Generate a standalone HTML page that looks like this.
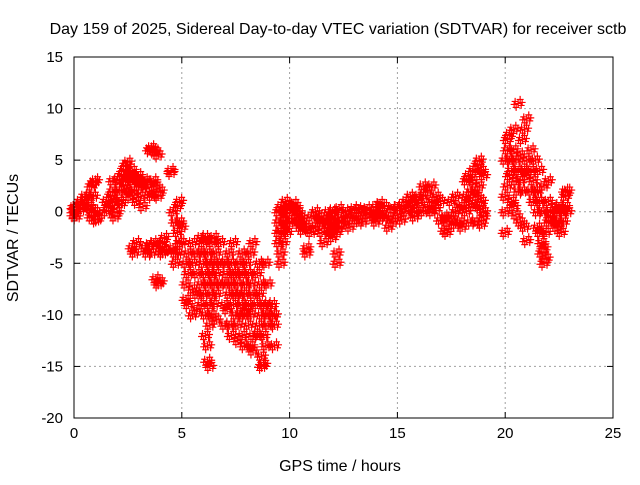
<!DOCTYPE html>
<html><head><meta charset="utf-8"><style>
body{margin:0;background:#fff}
svg text{font-family:"Liberation Sans",sans-serif;font-size:15px;fill:#000}
svg text.big{font-size:16px}
</style></head><body>
<svg id="c" width="640" height="480" viewBox="0 0 640 480">
<text class="big" x="338" y="34" text-anchor="middle">Day 159 of 2025, Sidereal Day-to-day VTEC variation (SDTVAR) for receiver sctb</text>
<text class="big" x="340" y="471" text-anchor="middle">GPS time / hours</text>
<text class="big" transform="translate(18,238) rotate(-90)" text-anchor="middle">SDTVAR / TECUs</text>
<g id="grid"></g><g id="marks"></g>
<rect x="74" y="57" width="539" height="361" fill="none" stroke="#000" stroke-width="1"/>
</svg>
<script>
const xTicks=[0,5,10,15,20,25];
const yTicks=[15,10,5,0,-5,-10,-15,-20];
const hours=[0,0.1,0.3,0.5,0.7,0.8,0.9,1.0,1.1,
1.5,1.6,1.7,1.8,1.9,2.0,2.1,2.2,2.3,2.4,2.5,2.6,2.7,2.8,2.9,3.0,3.1,3.2,3.3,3.4,3.5,3.6,3.7,3.8,3.9,4.0,4.1,4.2,4.5,4.6,4.7,4.8,4.9,5.0,
5.2,5.3,5.5,5.7,5.9,6.0,6.1,6.2,6.3,6.4,6.5,6.6,6.8,7.0,7.1,7.2,7.3,7.4,7.5,7.6,7.7,7.8,7.9,8.0,8.1,8.2,8.3,8.5,8.6,8.7,8.8,8.9,9.0,9.2,9.3,
9.5,9.6,9.7,9.8,9.9,10.0,10.2,10.3,10.4,10.5,10.6,10.8,11.0,11.2,11.4,11.5,11.6,11.8,11.9,12.0,12.1,12.2,12.3,12.4,12.6,12.8,13.0,13.2,13.4,13.6,13.9,14.0,14.2,14.4,14.6,14.8,
15.0,15.2,15.4,15.6,15.8,16.0,16.2,16.4,16.6,16.8,17.0,17.2,17.3,17.5,17.7,17.9,18.0,18.2,18.3,18.4,18.5,18.6,18.7,18.8,18.9,19.0,
20.0,20.1,20.2,20.3,20.4,20.5,20.6,20.7,20.8,20.9,21.0,21.2,21.3,21.4,21.5,21.6,21.7,21.8,21.9,22.0,22.1,22.3,22.4,22.5,22.6,22.7,22.8,22.9];
const values=[[0,-0.3,0.4],[0.5,-0.5],[1,0.2],[1.5,0.8],[0.5,1.5],[-0.5,0.3,2.5],[2.8,1.5,0],[3,0,-0.8],[-0.7],
[0,1],[0.5],[0.5,1.5],[2,3],[-0.5,1],[3,0],[2,1],[0.8,3.5],[4,2.5],[4.5,3],[4.8,2],[3.5,1.5],[3,4,-3.5],[2,3.5,-4],[3,1,-3],[2.5,3.5],[1.5,3],[2.5,0.5],[-3.5,3],[2.8,-4],[6,2,-3.2],[6.2,1.5,-4],[5.9,3,-3],[5.8,2.5,-6.5],[5.5,-7,1.5],[2,-3.5,-6.8],[-3,-4],[-2.5,-3.8],[4,3.8],[-3.5,0],[-1,-4,-5],[0.5,-2,-4],[-1,-3,1],[-3,-1.5],
[-5,-7,-8.5],[-4,-6,-9],[-3,-5,-7.5,-10],[-4,-6,-8,-9.5],[-2.5,-4,-7,-9],[-3,-5,-8],[-2.5,-6,-10,-12],[-4,-7,-13,-14.5],[-5,-9,-15,-11],[-3,-6,-8,-10],[-2.5,-5,-7,-9],[-4,-6,-8,-10.5],[-3,-5,-7],[-5,-7,-9,-11],[-6,-9.5],[-4,-8,-11],[-5,-7,-12],[-3,-6,-9],[-6,-8,-10],[-7,-11,-12.5],[-5,-8,-10],[-4,-6,-9,-12],[-8,-10,-13],[-5,-7,-9.5],[-6,-9,-11],[-4,-7,-10,-13],[-3,-8,-12,-13.5],[-6,-9,-12],[-5,-8,-11],[-7,-10,-14,-15],[-9,-12,-14.8],[-5,-10,-13],[-7,-9,-11],[-9,-10],[-10,-11,-13],
[0,-1,-2,-3],[0.5,-2,-4,-5],[0,-1,-3],[1,-0.5,-1.5],[0.3,-2],[0.5,-1],[0.8,0],[0.5,-0.3],[-1,0],[-0.5,-1.5],[-1,-1.8],[-1.5,-3.5,-4],[-0.5,-2],[0,-1.5],[-1,-0.5],[-2,-0.8],[-3,-1],[-1.5,0],[-2,-0.5],[0,-1,-2.5],[-1.5],[-2,-4,-5],[0.3,-1.5],[-0.5,-1],[-1,0],[-1.5,-0.5],[-0.5,0.3],[-0.8,0.2],[-1,0],[-0.3,0.3],[-0.5,0],[0.5,-1],[0.8,0,-0.5],[0.5,-0.5],[-0.5,-1.5],[0.3,-1],
[-0.3,0.5],[0.5,-0.8],[1,0],[0.5,1.5],[1,0,-0.5],[0.8,1.5],[1.5,0,2.5],[2,0.5],[2.5,1,0],[1.5,0.3],[1,-0.8],[-0.5,-1.8],[-2,-1],[-0.5,1],[1.5,0,-1.2],[-1,0.5],[-1.5,0.5],[1.5,3,0],[3.5,1],[-1,2],[3,4,0.5],[2,-1],[1.5,4.5],[5,2.5,0.5],[4,1,-1.2],[3.5,0,-0.5],
[-2,0,1.5,5],[6,7,2.5],[7.5,5,3.5],[4,1],[8,6,0.5],[5,3,-0.3],[10.5,4,2],[5.5,3,-1],[7,2],[8,4,-1.5],[9,5,3.5,-2.8],[6,4,2],[3,1],[5,2],[2,0,-1.5],[4,1,-2],[-3,-4,0],[-5,-3.5,2.5],[-4.5,-2],[3,1,-1],[0,-0.5],[-1,0.5],[0,-1.5],[-1,0.5],[-2,0.2],[-1,0],[0.5,1.5,2],[2,0]];

const X0=74,X1=613,Y0=57,Y1=418;
function xs(h){return X0+(h-0)/25*(X1-X0);}
function ys(v){return Y0+(15-v)/35*(Y1-Y0);}
const NS='http://www.w3.org/2000/svg';
const grid=document.getElementById('grid'),marks=document.getElementById('marks');
function mk(tag,attrs,parent){const e=document.createElementNS(NS,tag);for(const k in attrs)e.setAttribute(k,attrs[k]);parent.appendChild(e);return e;}
xTicks.forEach(t=>{const x=xs(t);
 if(t>0&&t<25){const g=mk('line',{x1:x,x2:x,y1:Y0,y2:Y1,stroke:'#a0a0a0','stroke-dasharray':'2,3'},grid);
 
 }
 mk('line',{x1:x,x2:x,y1:Y1,y2:Y1-6,stroke:'#000'},grid);mk('line',{x1:x,x2:x,y1:Y0,y2:Y0+6,stroke:'#000'},grid);
 const tx=mk('text',{x:x,y:Y1+20,'text-anchor':'middle'},grid);tx.textContent=t;
 
 });
yTicks.forEach(t=>{const y=ys(t);
 if(t<15&&t>-20){const g=mk('line',{x1:X0,x2:X1,y1:y,y2:y,stroke:'#a0a0a0','stroke-dasharray':'2,3'},grid);
 
 }
 mk('line',{x1:X0,x2:X0+6,y1:y,y2:y,stroke:'#000'},grid);mk('line',{x1:X1,x2:X1-6,y1:y,y2:y,stroke:'#000'},grid);
 const tx=mk('text',{x:X0-11,y:y+5,'text-anchor':'end'},grid);tx.textContent=t;
 
 });
const cluster=[[0,0],[3,2],[-3,-2],[2,-4],[-2,4],[4,-1],[-4,1]];
let d='';
hours.forEach((h,i)=>{values[i].forEach(v=>{const x=xs(h),y=ys(v);
 cluster.forEach(([dx,dy])=>{const px=x+dx,py=y+dy;d+=`M${px-3.5},${py}h7M${px},${py-3.5}v7`;});});});
const p=mk('path',{d:d,stroke:'#ff0000','stroke-width':'1.2',fill:'none'},marks);


</script>
</body></html>
